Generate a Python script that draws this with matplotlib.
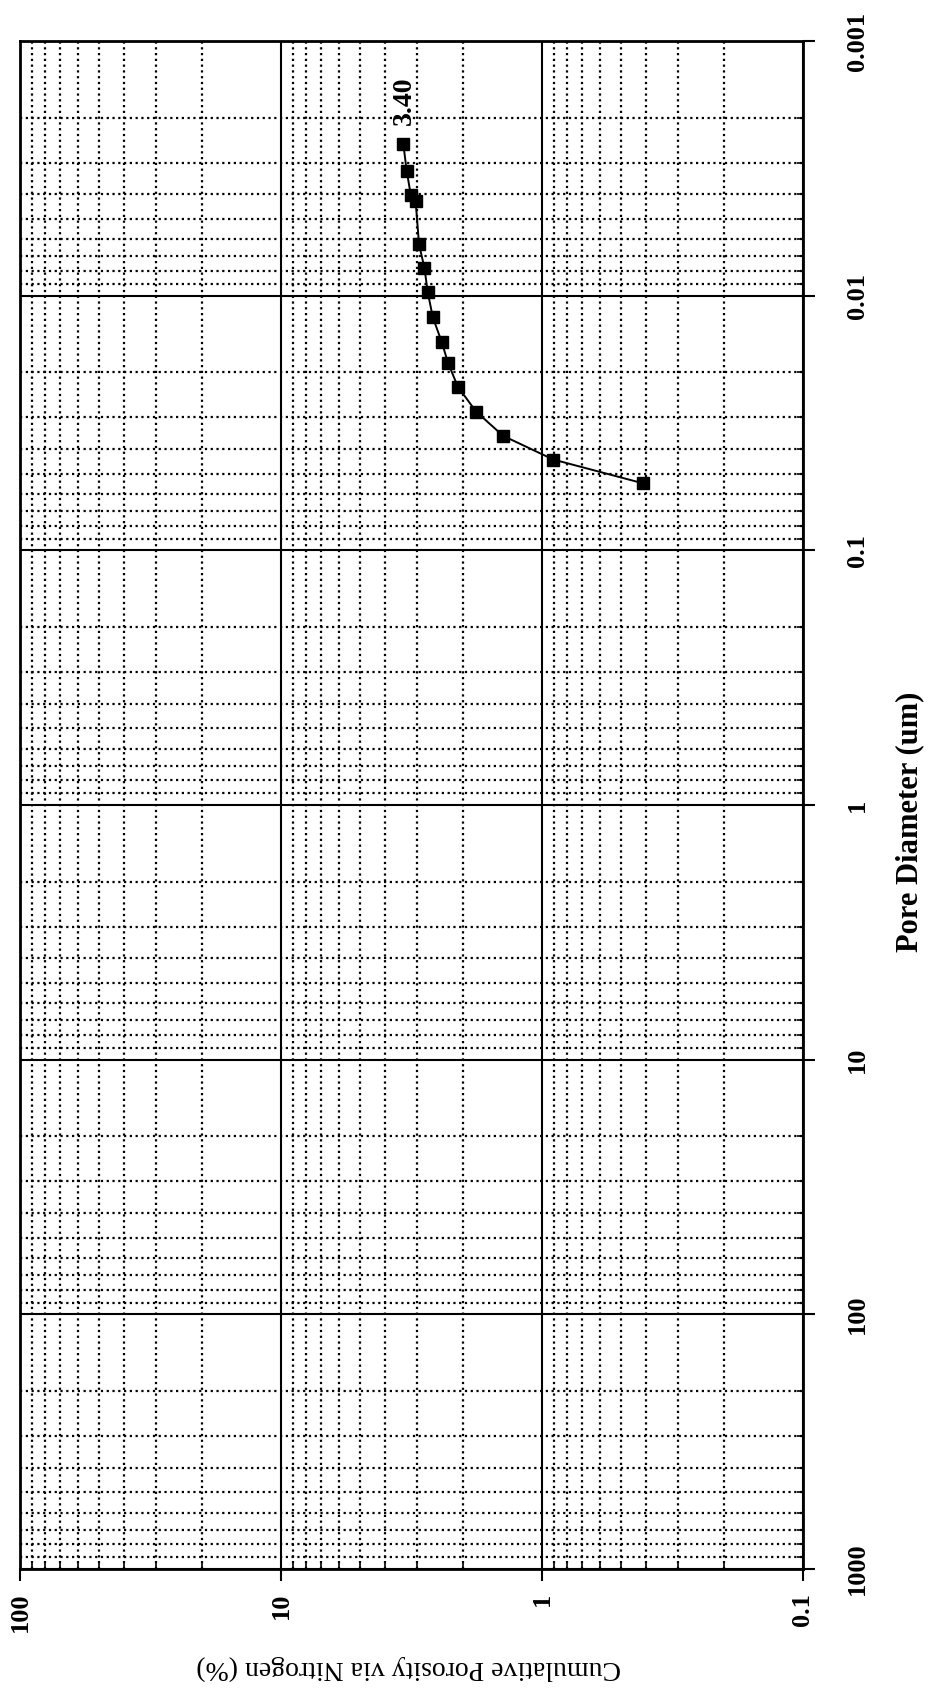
import matplotlib
matplotlib.use("Agg")
import matplotlib.pyplot as plt
from matplotlib.ticker import FixedLocator, LogLocator, NullFormatter

# Data
porosity = [3.40, 3.30, 3.18, 3.05, 2.96, 2.82, 2.74, 2.62, 2.42, 2.29, 2.10, 1.79, 1.41, 0.905, 0.409]
diameter = [0.00253, 0.00323, 0.00404, 0.00424, 0.00627, 0.0078, 0.0097, 0.01216,
            0.01524, 0.0184, 0.0228, 0.0285, 0.0355, 0.0440, 0.0546]
x_ticks = [100, 10, 1, 0.1]
x_ticklabels = ["100", "10", "1", "0.1"]
y_ticks = [0.001, 0.01, 0.1, 1, 10, 100, 1000]
y_ticklabels = ["0.001", "0.01", "0.1", "1", "10", "100", "1000"]
end_label = "3.40"
xlabel = "Cumulative Porosity via Nitrogen (%)"
ylabel = "Pore Diameter (um)"

plt.rcParams['font.family'] = ['Liberation Serif', 'DejaVu Serif']

W, H = 930, 1688
fig = plt.figure(figsize=(W/100, H/100), dpi=100)
ax = fig.add_axes([20/W, 1 - 1569/H, (803-20)/W, (1569-41)/H])

ax.set_xscale('log')
ax.set_yscale('log')
ax.set_xlim(100, 0.1)
ax.set_ylim(1000, 0.001)

ax.plot(porosity, diameter, color='black', lw=1.4, marker='s', ms=8.5,
        markerfacecolor='black', markeredgecolor='black', zorder=5)

ax.annotate(end_label, xy=(porosity[0], diameter[0]), xytext=(1, 31),
            textcoords='offset points', rotation=90, ha='center', va='center',
            fontsize=20, fontweight='bold')

# ticks
ax.xaxis.set_major_locator(FixedLocator(x_ticks))
ax.yaxis.set_major_locator(FixedLocator(y_ticks))
ax.xaxis.set_minor_locator(LogLocator(base=10, subs=range(2, 10), numticks=20))
ax.yaxis.set_minor_locator(LogLocator(base=10, subs=range(2, 10), numticks=20))
ax.xaxis.set_minor_formatter(NullFormatter())
ax.yaxis.set_minor_formatter(NullFormatter())
ax.set_xticklabels(x_ticklabels)
ax.set_yticklabels(y_ticklabels)

ax.yaxis.tick_right()
ax.tick_params(axis='both', which='major', direction='out', length=8.6, width=1.5,
               labelsize=19)
ax.tick_params(axis='x', which='major', pad=8.6)
ax.tick_params(axis='y', which='major', pad=22)
ax.tick_params(axis='both', which='minor', direction='in', length=4, width=1.2)
ax.tick_params(axis='y', which='both', left=False, right=True)
ax.tick_params(axis='x', which='both', top=False, bottom=True)

for lab in ax.get_xticklabels():
    lab.set_rotation(90)
    lab.set_fontweight('bold')
    lab.set_va('top')
    lab.set_ha('center')
for lab in ax.get_yticklabels():
    lab.set_rotation(90)
    lab.set_fontweight('bold')
    lab.set_va('center')
    lab.set_ha('left')

ax.grid(which='major', color='black', lw=1.5, ls='-')
ax.grid(which='minor', color='black', lw=1.6, ls=(0, (1, 1.6)))
ax.set_axisbelow(True)

for sp in ax.spines.values():
    sp.set_linewidth(2)

fig.text(910/W, 1 - 822/H, ylabel, fontsize=22, fontweight='bold', rotation=90,
         ha='center', va='center')
fig.text(409/W, 1 - 1668/H, xlabel, fontsize=20, rotation=180,
         ha='center', va='center')

fig.savefig("out.png", dpi=100)
